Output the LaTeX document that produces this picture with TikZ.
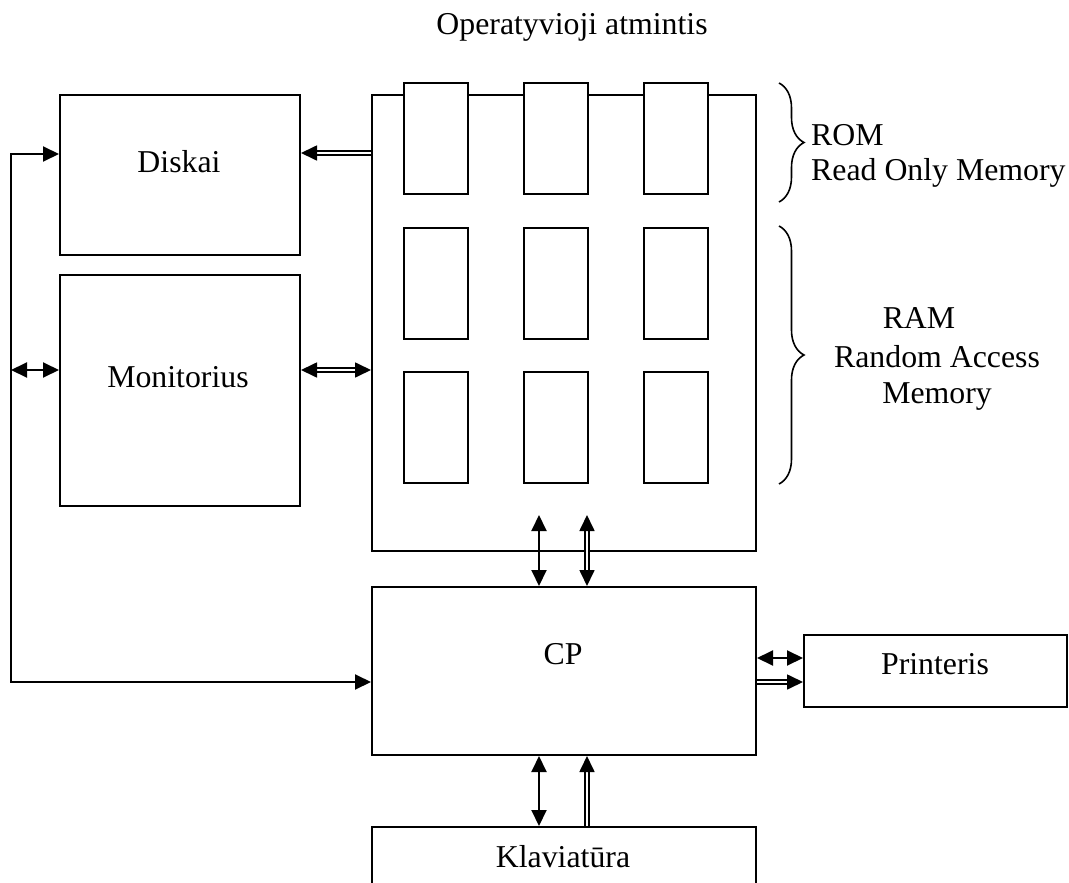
\documentclass[tikz,border=0pt]{standalone}
\usepackage{fontspec}
\setmainfont{Liberation Serif}
\usetikzlibrary{arrows.meta,decorations.pathreplacing}
\begin{document}
\begin{tikzpicture}[x=1pt,y=-1pt,
  box/.style={draw,line width=2pt,rectangle,inner sep=0pt,anchor=north west},
  chip/.style={box,minimum width=64pt,minimum height=111pt},
  lbl/.style={inner sep=0pt,anchor=base,font=\fontsize{31.8}{38}\selectfont},
  sg/.style={line width=2pt},
  dbl/.style={line width=1.7pt,double,double distance=2.4pt},
  brc/.style={line width=1.6pt,decorate,decoration={brace,amplitude=25pt}},
  >={Triangle[length=16pt,width=15pt]}
]
\useasboundingbox (0,0) rectangle (1069,883);

% boxes
\node[box,minimum width=240pt,minimum height=160pt] (disk) at (59,94) {};
\node[box,minimum width=240pt,minimum height=231pt] (mon) at (59,274) {};
\node[box,minimum width=384pt,minimum height=456pt] (mem) at (371,94) {};
\node[box,minimum width=384pt,minimum height=168pt] (cp) at (371,586) {};
\node[box,minimum width=263pt,minimum height=72pt] (prn) at (803,634) {};
\node[box,minimum width=384pt,minimum height=90pt] (kbd) at (371,826) {};

% memory chips
\foreach \c/\x in {1/403,2/523,3/643}{
  \node[chip,fill=white] (rom\c) at (\x,82) {};
  \node[chip] (rama\c) at (\x,227) {};
  \node[chip] (ramb\c) at (\x,371) {};
}

% labels
\node[lbl] (ttl) at (572,35) {Operatyvioji atmintis};
\node[lbl] (tdisk) at (179,172) {Diskai};
\node[lbl] (tmon) at (178,387) {Monitorius};
\node[lbl] (tcp) at (563,664) {CP};
\node[lbl] (tprn) at (935,674) {Printeris};
\node[lbl] (tkbd) at (563,867) {Klaviatūra};
\node[lbl,anchor=base west] (trom) at (811,145) {ROM};
\node[lbl,anchor=base west] (trom2) at (811,180) {Read Only Memory};
\node[lbl] (tram) at (919,328) {RAM};
\node[lbl] (tram2) at (937,367) {Random Access};
\node[lbl] (tram3) at (937,403) {Memory};

% braces
\draw[brc] (779,83) -- (779,202);
\draw[brc] (779,226) -- (779,484);

% bus on the left
\coordinate (busTop) at (11,154);
\coordinate (busMid) at (11,370);
\coordinate (busBot) at (11,682);
\draw[sg,<->] (disk.west |- busTop) -- (busTop) -- (busBot) -- (cp.west |- busBot);
\draw[sg,<->] (busMid) -- (mon.west |- busMid);

% memory links
\draw[dbl,->] (mem.west |- 0,153) -- (disk.east |- 0,153);
\draw[dbl,<->] (mon.east |- busMid) -- (mem.west |- busMid);

% memory <-> CP
\coordinate (m1) at (539,515);
\coordinate (m2) at (587,515);
\draw[sg,<->] (m1) -- (cp.north -| m1);
\draw[dbl,<->] (m2) -- (cp.north -| m2);

% CP <-> printer
\draw[sg,<->] (cp.east |- 0,658) -- (prn.west |- 0,658);
\draw[dbl,->] (cp.east |- 0,682) -- (prn.west |- 0,682);

% CP <-> keyboard
\draw[sg,<->] (cp.south -| m1) -- (kbd.north -| m1);
\draw[dbl,->] (kbd.north -| m2) -- (cp.south -| m2);
\end{tikzpicture}
\end{document}
